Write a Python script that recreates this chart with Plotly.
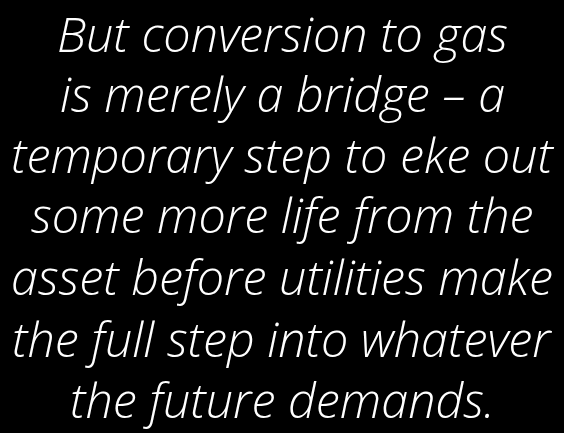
import plotly.graph_objects as go

lines = [
    "But conversion to gas",
    "is merely a bridge – a",
    "temporary step to eke out",
    "some more life from the",
    "asset before utilities make",
    "the full step into whatever",
    "the future demands.",
]
line_y = [33, 93, 154, 214, 276, 338, 399]

fig = go.Figure()
for txt, y in zip(lines, line_y):
    fig.add_annotation(
        x=282, y=y, xref="x", yref="y", text=txt, showarrow=False,
        xanchor="center", yanchor="middle",
        font=dict(family="Open Sans", size=48.5, color="#ffffff", style="italic", weight=300),
    )

fig.update_xaxes(range=[0, 564], visible=False)
fig.update_yaxes(range=[433, 0], visible=False)
fig.update_layout(
    width=564, height=433,
    margin=dict(l=0, r=0, t=0, b=0),
    paper_bgcolor="#000000", plot_bgcolor="#000000",
    showlegend=False,
)
fig.write_html(
    "out.html",
    config={"displayModeBar": False},
    post_script="document.body.style.margin='0';document.body.style.background='#000';",
)
